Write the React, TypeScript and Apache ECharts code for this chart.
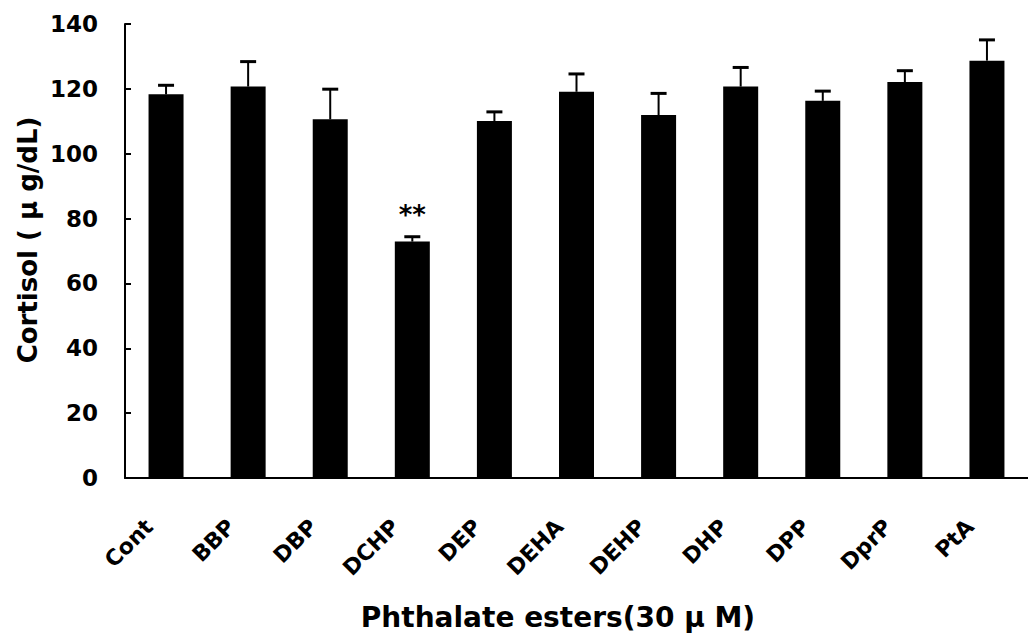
import React, { useEffect, useRef } from "react";
import * as echarts from "echarts";

const categories = ["Cont", "BBP", "DBP", "DCHP", "DEP", "DEHA", "DEHP", "DHP", "DPP", "DprP", "PtA"];
const means = [118.3, 120.7, 110.6, 72.9, 110.1, 119.1, 111.9, 120.7, 116.3, 122.1, 128.7];
const errors = [2.8, 7.7, 9.3, 1.5, 2.8, 5.5, 6.7, 5.9, 3.0, 3.5, 6.4];
const marks = ["", "", "", "**", "", "", "", "", "", "", ""];
const yMin = 0;
const yMax = 140;
const yStep = 20;
const yTitle = "Cortisol ( μ g/dL)";
const xTitle = "Phthalate esters(30 μ M)";

const FONT = "DejaVu Sans";

export default function App() {
  const ref = useRef<HTMLDivElement>(null);
  useEffect(() => {
    if (!ref.current) return;
    const chart = echarts.init(ref.current, undefined, { renderer: "svg" });
    chart.setOption({
      animation: false,
      backgroundColor: "#fff",
      grid: { left: 125, top: 24, bottom: 155, width: 907 },
      xAxis: {
        type: "category",
        data: categories,
        boundaryGap: true,
        axisLine: { lineStyle: { color: "#000", width: 2 } },
        axisTick: { inside: true, length: 6, lineStyle: { color: "#000", width: 2 }, alignWithLabel: false },
        axisLabel: {
          rotate: 45,
          margin: 28,
          padding: [0, 24, 0, 0],
          color: "#000",
          fontFamily: FONT,
          fontWeight: "bold",
          fontSize: 22,
          interval: 0,
        },
      },
      yAxis: {
        type: "value",
        min: yMin,
        max: yMax,
        interval: yStep,
        splitLine: { show: false },
        axisLine: { show: true, lineStyle: { color: "#000", width: 2 } },
        axisTick: { show: true, inside: true, length: 6, lineStyle: { color: "#000", width: 2 } },
        axisLabel: {
          margin: 27,
          color: "#000",
          fontFamily: FONT,
          fontWeight: "bold",
          fontSize: 23,
        },
      },
      graphic: [
        {
          type: "text",
          x: 28,
          y: 240,
          rotation: Math.PI / 2,
          style: {
            text: yTitle,
            fill: "#000",
            font: `bold 26px "${FONT}"`,
            align: "center",
            verticalAlign: "middle",
          },
        },
        {
          type: "text",
          x: 558,
          y: 617,
          style: {
            text: xTitle,
            fill: "#000",
            font: `bold 28px "${FONT}"`,
            align: "center",
            verticalAlign: "middle",
          },
        },
      ],
      series: [
        {
          type: "bar",
          data: means.map((v, i) => ({
            value: v,
            label: marks[i]
              ? {
                  show: true,
                  position: "top",
                  distance: 14,
                  formatter: marks[i],
                  color: "#000",
                  fontFamily: FONT,
                  fontWeight: "bold",
                  fontSize: 26,
                }
              : { show: false },
          })),
          barWidth: 35,
          itemStyle: { color: "#000" },
          z: 2,
        },
        {
          type: "custom",
          data: means.map((v, i) => [i, v, errors[i]]),
          z: 3,
          renderItem: (params: any, api: any) => {
            const x = api.value(0);
            const v = api.value(1);
            const e = api.value(2);
            const p0 = api.coord([x, v]);
            const p1 = api.coord([x, v + e]);
            return {
              type: "group",
              children: [
                {
                  type: "line",
                  shape: { x1: p0[0], y1: p0[1], x2: p1[0], y2: p1[1] },
                  style: { stroke: "#000", lineWidth: 2 },
                },
                {
                  type: "line",
                  shape: { x1: p1[0] - 8, y1: p1[1], x2: p1[0] + 8, y2: p1[1] },
                  style: { stroke: "#000", lineWidth: 3 },
                },
              ],
            };
          },
        },
      ],
    });
    return () => chart.dispose();
  }, []);
  return (
    <div
      ref={ref}
      style={{ position: "absolute", left: 0, top: 0, width: 1028, height: 633 }}
    />
  );
}
